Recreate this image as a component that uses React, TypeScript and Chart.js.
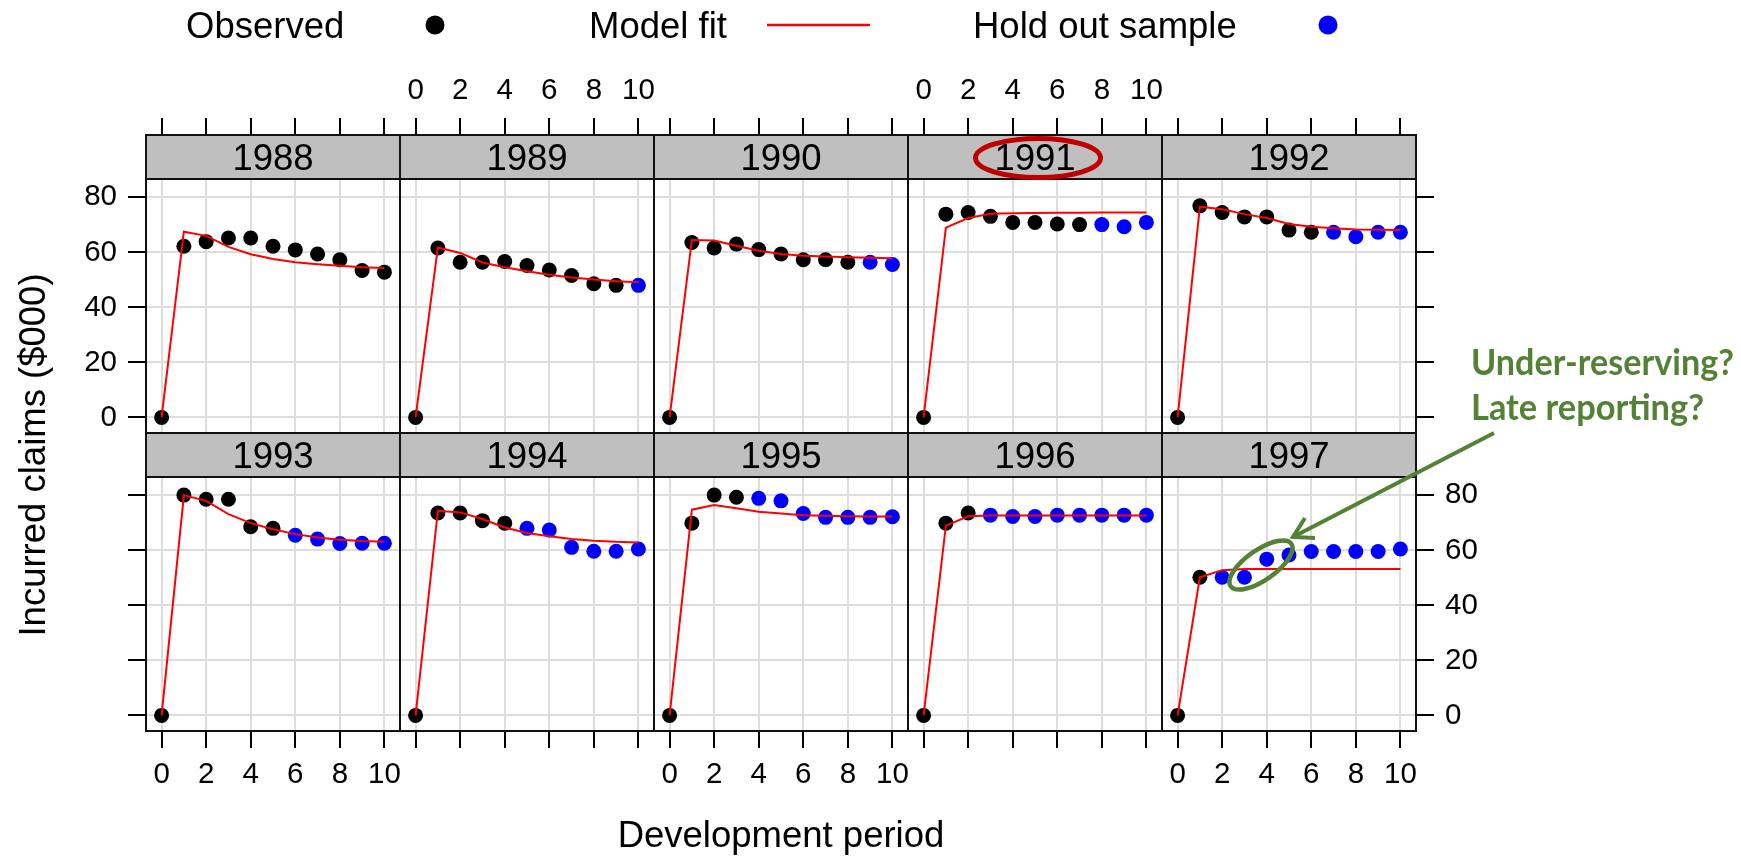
import React, { useEffect, useRef } from "react";
import { Chart, registerables } from "chart.js";

Chart.register(...registerables);

// ---------------- data ----------------
const accidentYears = [1988, 1989, 1990, 1991, 1992, 1993, 1994, 1995, 1996, 1997];
const devPeriods = [0, 1, 2, 3, 4, 5, 6, 7, 8, 9, 10];
const lastObservedPeriod = [10, 9, 8, 7, 6, 5, 4, 3, 2, 1];
const xTickValues = [0, 2, 4, 6, 8, 10];
const yTickValues = [0, 20, 40, 60, 80];

const incurred1988 = [0, 62.2, 63.9, 65.2, 65.2, 62.2, 60.9, 59.4, 57.3, 53.4, 52.8];
const incurred1989 = [0, 61.6, 56.4, 56.4, 56.7, 55.2, 53.6, 51.6, 48.6, 48.0, 48.0];
const incurred1990 = [0, 63.6, 61.6, 63.0, 61.0, 59.4, 57.3, 57.3, 56.4, 56.4, 55.6];
const incurred1991 = [0, 73.9, 74.5, 73.1, 70.9, 70.9, 70.3, 70.1, 70.1, 69.3, 70.9];
const incurred1992 = [0, 76.9, 74.5, 72.9, 72.9, 68.1, 67.3, 67.3, 65.7, 67.3, 67.3];
const incurred1993 = [0, 80.1, 78.6, 78.6, 68.6, 68.0, 65.5, 64.1, 62.5, 62.6, 62.6];
const incurred1994 = [0, 73.6, 73.6, 70.8, 69.9, 68.0, 67.4, 61.1, 59.7, 59.7, 60.5];
const incurred1995 = [0, 69.9, 80.1, 79.3, 78.9, 78.0, 73.4, 72.0, 72.0, 72.0, 72.2];
const incurred1996 = [0, 69.9, 73.6, 72.8, 72.3, 72.3, 72.8, 72.8, 72.8, 72.8, 72.8];
const incurred1997 = [0, 50.2, 50.2, 50.2, 56.8, 58.3, 59.6, 59.6, 59.6, 59.6, 60.5];

const fit1988 = [0, 67.5, 66.0, 62.0, 59.3, 57.6, 56.4, 55.7, 55.1, 54.6, 54.3];
const fit1989 = [0, 61.8, 59.8, 56.3, 54.6, 53.1, 51.9, 50.9, 50.1, 49.5, 49.1];
const fit1990 = [0, 64.5, 64.3, 62.4, 60.6, 59.4, 58.8, 58.5, 58.2, 58.0, 57.9];
const fit1991 = [0, 69.0, 72.5, 74.0, 74.2, 74.3, 74.4, 74.4, 74.5, 74.5, 74.5];
const fit1992 = [0, 76.6, 75.7, 73.9, 72.5, 70.3, 69.3, 68.8, 68.3, 68.2, 68.1];
const fit1993 = [0, 80.0, 78.0, 73.2, 69.9, 67.7, 65.9, 64.7, 63.9, 63.4, 63.1];
const fit1994 = [0, 74.4, 73.8, 71.4, 68.3, 66.3, 65.1, 64.1, 63.5, 63.1, 62.9];
const fit1995 = [0, 74.8, 76.5, 75.3, 74.0, 73.4, 72.8, 72.6, 72.4, 72.3, 72.3];
const fit1996 = [0, 69.0, 72.4, 72.7, 72.7, 72.7, 72.7, 72.7, 72.7, 72.7, 72.7];
const fit1997 = [0, 50.2, 52.8, 53.2, 53.2, 53.2, 53.2, 53.2, 53.2, 53.2, 53.2];

const incurredByYear = [
  incurred1988, incurred1989, incurred1990, incurred1991, incurred1992,
  incurred1993, incurred1994, incurred1995, incurred1996, incurred1997,
];
const fitByYear = [fit1988, fit1989, fit1990, fit1991, fit1992, fit1993, fit1994, fit1995, fit1996, fit1997];

// ---------------- layout ----------------
const FONT = "'Liberation Sans', Arial, Helvetica, sans-serif";
const MAIN_FS = 36.5;
const TICK_FS = 29.5;
const PANEL_W = 254;
const STRIP_H = 44;
const PLOT_H = 254;
const ROW_H = STRIP_H + PLOT_H;
const GRID_LEFT = 146;
const GRID_TOP = 135;
const X_MIN = -0.7;
const X_MAX = 10.7;
const Y_MIN = -5.67;
const Y_PLOT_MAX = 86.67;
const Y_MAX = Y_PLOT_MAX + (STRIP_H * (Y_PLOT_MAX - Y_MIN)) / PLOT_H;
const SIDE = 70;
const AXIS_X_H = 62;
const AXIS_Y_W = 66;
const EDGE = 44;
const GRID_COLOR = "#DDDDDD";
const STRIP_BG = "#BFBFBF";

function panelGeom(i: number) {
  const r = i < 5 ? 0 : 1;
  const c = i % 5;
  const left = GRID_LEFT + c * PANEL_W - SIDE;
  const top = r === 0 ? GRID_TOP - AXIS_X_H : GRID_TOP + ROW_H - EDGE;
  return { r, c, left, top, w: PANEL_W + 2 * SIDE, h: AXIS_X_H + ROW_H + EDGE };
}

function makeFramePlugin(title: string) {
  return {
    id: "panelFrame",
    beforeDatasetsDraw(chart: any) {
      const { ctx, chartArea: a } = chart;
      const yb = chart.scales.y.getPixelForValue(Y_PLOT_MAX);
      ctx.save();
      ctx.fillStyle = STRIP_BG;
      ctx.fillRect(a.left, a.top, a.right - a.left, yb - a.top);
      ctx.fillStyle = "#000";
      ctx.font = `${MAIN_FS}px ${FONT}`;
      ctx.textAlign = "center";
      ctx.textBaseline = "alphabetic";
      ctx.fillText(title, (a.left + a.right) / 2, a.top + 35);
      ctx.restore();
    },
    afterDatasetsDraw(chart: any) {
      const { ctx, chartArea: a } = chart;
      const yb = chart.scales.y.getPixelForValue(Y_PLOT_MAX);
      ctx.save();
      ctx.strokeStyle = "#111";
      ctx.lineWidth = 2;
      ctx.strokeRect(a.left, a.top, a.right - a.left, a.bottom - a.top);
      ctx.beginPath();
      ctx.moveTo(a.left, yb);
      ctx.lineTo(a.right, yb);
      ctx.stroke();
      ctx.restore();
    },
  };
}

function buildConfig(i: number): any {
  const { r, c } = panelGeom(i);
  const hasLeft = c === 0;
  const hasRight = c === 4;
  const yAxisShown = hasLeft || hasRight;
  const showYLabels = (r === 0 && c === 0) || (r === 1 && c === 4);
  const showXLabels = r === 0 ? c === 1 || c === 3 : c % 2 === 0;
  const cutoff = lastObservedPeriod[i];
  const values = incurredByYear[i];
  const fit = fitByYear[i];

  const observedPts = devPeriods.filter((d) => d <= cutoff).map((d) => ({ x: d, y: values[d] }));
  const holdoutPts = devPeriods.filter((d) => d > cutoff).map((d) => ({ x: d, y: values[d] }));
  const fitPts = devPeriods.map((d) => ({ x: d, y: fit[d] }));

  const pointDs = (label: string, data: any[], color: string) => ({
    label,
    data,
    showLine: false,
    pointRadius: 7.5,
    pointHoverRadius: 7.5,
    pointBackgroundColor: color,
    pointBorderWidth: 0,
    borderWidth: 0,
    order: 1,
  });

  return {
    type: "line",
    data: {
      datasets: [
        {
          label: "Model fit",
          data: fitPts,
          borderColor: "#FF0000",
          borderWidth: 2,
          pointRadius: 0,
          pointHoverRadius: 0,
          tension: 0,
          fill: false,
          order: 0,
        },
        pointDs("Observed", observedPts, "#000000"),
        pointDs("Hold out sample", holdoutPts, "#0000FF"),
      ],
    },
    options: {
      animation: false,
      responsive: false,
      devicePixelRatio: 1,
      events: [],
      layout: {
        padding: {
          left: SIDE - (hasLeft ? AXIS_Y_W : 0),
          right: SIDE - (hasRight ? AXIS_Y_W : 0),
          top: r === 0 ? 0 : EDGE,
          bottom: r === 0 ? EDGE : 0,
        },
      },
      plugins: { legend: { display: false }, tooltip: { enabled: false } },
      scales: {
        x: {
          type: "linear",
          position: r === 0 ? "top" : "bottom",
          min: X_MIN,
          max: X_MAX,
          afterBuildTicks: (s: any) => {
            s.ticks = xTickValues.map((v) => ({ value: v }));
          },
          afterFit: (s: any) => {
            s.height = AXIS_X_H;
          },
          grid: {
            color: GRID_COLOR,
            lineWidth: 2,
            drawTicks: true,
            tickColor: "#000",
            tickWidth: 2,
            tickLength: 17,
          },
          border: { display: false },
          ticks: {
            autoSkip: false,
            maxRotation: 0,
            minRotation: 0,
            padding: 9,
            color: "#000",
            font: { family: FONT, size: TICK_FS },
            callback: (v: any) => (showXLabels ? String(v) : ""),
          },
        },
        y: {
          type: "linear",
          position: hasRight ? "right" : "left",
          min: Y_MIN,
          max: Y_MAX,
          afterBuildTicks: (s: any) => {
            s.ticks = yTickValues.map((v) => ({ value: v }));
          },
          afterFit: (s: any) => {
            s.width = yAxisShown ? AXIS_Y_W : 0;
          },
          grid: {
            color: GRID_COLOR,
            lineWidth: 2,
            drawTicks: yAxisShown,
            tickColor: "#000",
            tickWidth: 2,
            tickLength: 18,
          },
          border: { display: false },
          ticks: {
            display: yAxisShown,
            padding: 11,
            color: "#000",
            font: { family: FONT, size: TICK_FS },
            callback: (v: any) => (showYLabels ? String(v) : ""),
          },
        },
      },
    },
    plugins: [makeFramePlugin(String(accidentYears[i]))],
  };
}

const GREEN = "#548235";

export default function App() {
  const canvasRefs = useRef<(HTMLCanvasElement | null)[]>([]);

  useEffect(() => {
    const charts = accidentYears.map((_, i) => new Chart(canvasRefs.current[i] as HTMLCanvasElement, buildConfig(i)));
    return () => charts.forEach((ch) => ch.destroy());
  }, []);

  return (
    <div
      style={{
        position: "fixed",
        left: 0,
        top: 0,
        width: 1741,
        height: 856,
        background: "#fff",
        overflow: "hidden",
      }}
    >
      {accidentYears.map((year, i) => {
        const g = panelGeom(i);
        return (
          <canvas
            key={year}
            ref={(el) => {
              canvasRefs.current[i] = el;
            }}
            width={g.w}
            height={g.h}
            style={{ position: "absolute", left: g.left, top: g.top, width: g.w, height: g.h }}
          />
        );
      })}
      <svg
        width={1741}
        height={856}
        style={{ position: "absolute", left: 0, top: 0, pointerEvents: "none" }}
      >
        {/* legend */}
        <text x={186} y={38} fontFamily={FONT} fontSize={MAIN_FS} fill="#000">Observed</text>
        <circle cx={435} cy={25} r={9.5} fill="#000" />
        <text x={589} y={38} fontFamily={FONT} fontSize={MAIN_FS} fill="#000">Model fit</text>
        <line x1={767} y1={25} x2={870} y2={25} stroke="#FF0000" strokeWidth={2.5} />
        <text x={973} y={38} fontFamily={FONT} fontSize={MAIN_FS} fill="#000">Hold out sample</text>
        <circle cx={1328} cy={25} r={9.5} fill="#0000FF" />

        {/* axis titles */}
        <text x={781} y={847} fontFamily={FONT} fontSize={MAIN_FS} fill="#000" textAnchor="middle">
          Development period
        </text>
        <text
          x={45}
          y={455}
          fontFamily={FONT}
          fontSize={MAIN_FS}
          fill="#000"
          textAnchor="middle"
          transform="rotate(-90 45 455)"
        >
          Incurred claims ($000)
        </text>

        {/* highlight 1991 */}
        <ellipse cx={1038} cy={158} rx={62.5} ry={19.5} fill="none" stroke="#C00000" strokeWidth={5} />

        {/* annotation */}
        <text x={1471} y={375} fontFamily="Lato, 'Open Sans', sans-serif" fontWeight={700} fontSize={36} fill={GREEN} textLength={263} lengthAdjust="spacingAndGlyphs">
          Under-reserving?
        </text>
        <text x={1471} y={420} fontFamily="Lato, 'Open Sans', sans-serif" fontWeight={700} fontSize={36} fill={GREEN} textLength={233} lengthAdjust="spacingAndGlyphs">
          Late reporting?
        </text>
        <line x1={1494} y1={433} x2={1294} y2={536.5} stroke={GREEN} strokeWidth={4} />
        <polyline points="1305,518 1293,537 1315,538" fill="none" stroke={GREEN} strokeWidth={4} strokeLinejoin="miter" />
        <ellipse
          cx={1261}
          cy={565}
          rx={37}
          ry={15}
          fill="none"
          stroke={GREEN}
          strokeWidth={4.5}
          transform="rotate(-35 1261 565)"
        />
      </svg>
    </div>
  );
}
